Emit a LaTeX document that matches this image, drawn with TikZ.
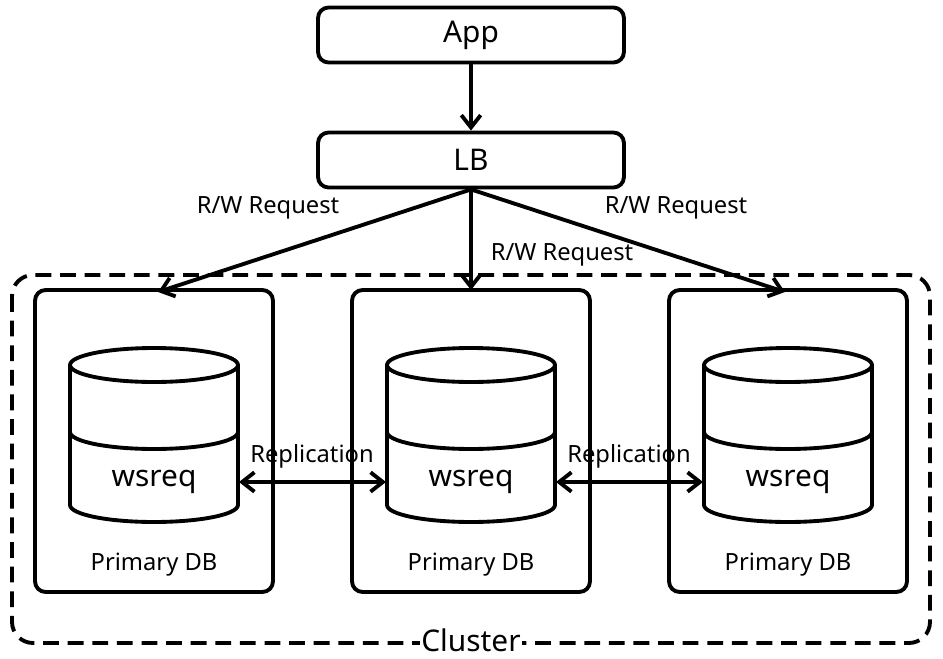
\documentclass[tikz,border=0pt]{standalone}
\usepackage{fontspec}
\setmainfont{Noto Sans}
\usetikzlibrary{arrows.meta}
\tikzset{
  box/.style={draw, line width=2.2pt, rounded corners=6pt, inner sep=0pt},
  conn/.style={line width=2.2pt, -{Straight Barb[length=7pt,width=11pt]}},
  both/.style={line width=2.2pt, {Straight Barb[length=7pt,width=11pt]}-{Straight Barb[length=7pt,width=11pt]}},
  lbl/.style={font=\fontsize{13.5}{15}\selectfont},
  big/.style={font=\fontsize{17}{19}\selectfont},
}
\newcommand{\dbcyl}[1]{%
  \draw[line width=2.2pt] (#1-84,-365) -- (#1-84,-505)
    arc[start angle=180,end angle=360,x radius=1.68cm,y radius=0.34cm] -- (#1+84,-365);
  \draw[line width=2.2pt] (#1,-365) ellipse [x radius=1.68cm, y radius=0.34cm];
  \draw[line width=2.2pt] (#1-84,-432)
    arc[start angle=180,end angle=360,x radius=1.68cm,y radius=0.34cm];
}
\begin{document}
\begin{tikzpicture}[x=0.02cm,y=0.02cm]
  \useasboundingbox (0,0) rectangle (943,-659);
  % top
  \node[box, big, minimum width=6.12cm, minimum height=1.1cm] (app) at (471,-35) {App};
  \node[box, big, minimum width=6.12cm, minimum height=1.1cm] (lb) at (471,-160) {LB};
  \draw[conn] (app) -- (lb);
  % cluster
  \draw[line width=2.2pt, dash pattern=on 9pt off 5pt, rounded corners=12pt] (12,-275) rectangle (930,-643);
  \node[big, fill=white, inner sep=1pt] (cl) at (471,-640) {Cluster};
  % databases
  \foreach \cx/\n in {154/1, 471/2, 788/3} {
    \node[box, minimum width=4.76cm, minimum height=6.04cm] (db\n) at (\cx,-441) {};
    \dbcyl{\cx}
    \node[big] (w\n) at (\cx,-482) {wsreq};
    \node[lbl] (p\n) at (\cx,-565) {Primary DB};
    \coordinate (l\n) at (\cx-85,-482);
    \coordinate (r\n) at (\cx+85,-482);
  }
  \coordinate (t1) at (158,-292);
  \coordinate (t2) at (471,-290);
  \coordinate (t3) at (785,-292);
  \draw[conn] (lb.south) -- (t1);
  \draw[conn] (lb.south) -- (t2);
  \draw[conn] (lb.south) -- (t3);
  \node[lbl] (rq1) at (268,-208) {R/W Request};
  \node[lbl] (rq2) at (562,-255) {R/W Request};
  \node[lbl] (rq3) at (676,-208) {R/W Request};
  \draw[both] (r1) -- (l2);
  \draw[both] (r2) -- (l3);
  \node[lbl] (rp1) at (312,-456) {Replication};
  \node[lbl] (rp2) at (629,-456) {Replication};
\end{tikzpicture}
\end{document}
